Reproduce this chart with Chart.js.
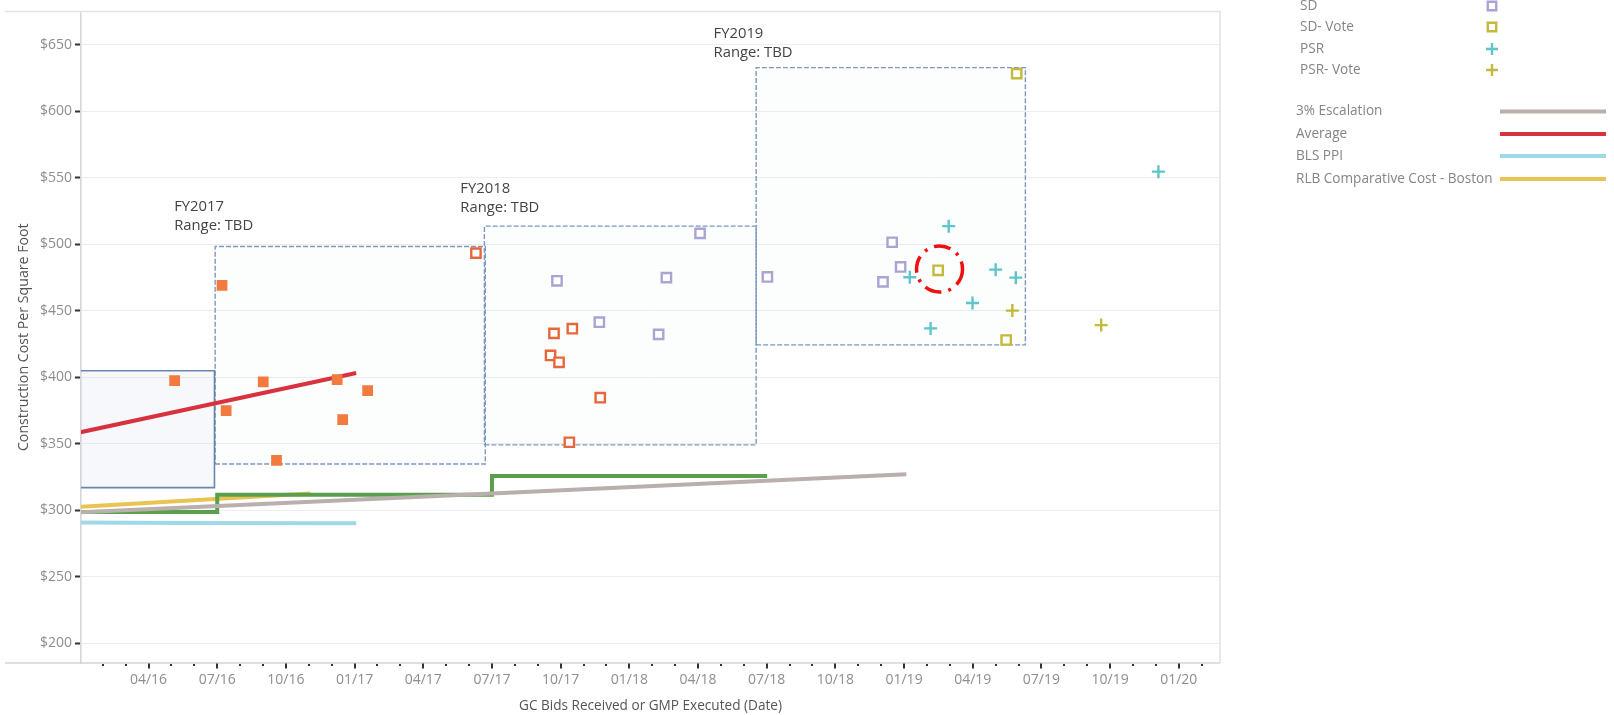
<!DOCTYPE html>
<html>
<head>
<meta charset="utf-8">
<title>Construction Cost Per Square Foot</title>
<script src="https://cdn.jsdelivr.net/npm/chart.js@4.4.1/dist/chart.umd.min.js"></script>
<style>
  html, body { margin: 0; padding: 0; background: #fff; }
  #wrap { position: relative; width: 1614px; height: 715px; }
</style>
</head>
<body>
<div id="wrap"><canvas id="costChart" width="1614" height="715"></canvas></div>
<script>
// x values are months counted from 01/2016 (04/16 = 3, 07/16 = 6, ... 01/20 = 48)

// ── Axis ticks ────────────────────────────────────────────
const yTickValues = [200, 250, 300, 350, 400, 450, 500, 550, 600, 650];
const xTickMonths = [3, 6, 9, 12, 15, 18, 21, 24, 27, 30, 33, 36, 39, 42, 45, 48];
const xTickLabels = ['04/16', '07/16', '10/16', '01/17', '04/17', '07/17', '10/17', '01/18',
                     '04/18', '07/18', '10/18', '01/19', '04/19', '07/19', '10/19', '01/20'];
const xMinorMonths = [1, 2, 4, 5, 7, 8, 10, 11, 13, 14, 16, 17, 19, 20, 22, 23, 25, 26, 28, 29,
                      31, 32, 34, 35, 37, 38, 40, 41, 43, 44, 46, 47, 49];

// ── Bid markers ───────────────────────────────────────────
const fy17BidX = [4.14, 6.21, 6.39, 8.01, 8.59, 11.24, 11.48, 12.57];
const fy17BidY = [397.4, 468.9, 374.8, 396.4, 337.3, 398.1, 368.1, 389.9];

const fy18BidX = [17.30, 20.71, 21.51, 20.56, 20.93, 22.73, 21.38];
const fy18BidY = [493.2, 432.9, 436.4, 416.3, 411.1, 384.5, 351.0];

const sdX = [20.84, 22.69, 25.62, 25.28, 27.09, 30.03, 35.48, 35.85, 35.08];
const sdY = [472.4, 441.3, 474.8, 432.1, 508.1, 475.3, 501.4, 482.8, 471.6];

const sdVoteX = [40.92, 37.49, 40.46];
const sdVoteY = [628.2, 480.3, 427.9];

const psrX = [37.95, 36.25, 40.00, 40.88, 38.99, 37.16, 47.11];
const psrY = [513.5, 475.1, 480.8, 474.8, 455.7, 436.6, 554.5];

const psrVoteX = [40.73, 44.61];
const psrVoteY = [450.0, 439.1];

// ── Reference lines ───────────────────────────────────────
const escalationX = [0, 18, 36.1];
const escalationY = [298.3, 312.5, 326.9];

const averageX = [0, 12.07];
const averageY = [358.4, 403.1];

const blsPpiX = [0, 4.5, 12.07];
const blsPpiY = [290.7, 290.3, 290.0];

const rlbX = [0, 10.06];
const rlbY = [302.5, 312.5];

const stepX = [0, 6, 18, 30.02];
const stepY = [298.6, 311.5, 325.6, 325.6];

// ── Fiscal-year range boxes ───────────────────────────────
const boxNames  = ['FY2016', 'FY2017', 'FY2018', 'FY2019'];
const boxStartX = [-1, 5.91, 17.67, 29.54];
const boxEndX   = [5.88, 17.71, 29.54, 41.30];
const boxLowY   = [316.9, 334.6, 349.0, 424.2];
const boxHighY  = [404.8, 498.2, 513.5, 632.7];

const fyLabelText = ['FY2017', 'FY2018', 'FY2019'];
const fyLabelX    = [4.12, 16.62, 27.68];
const fyLabelY    = [528.0, 541.4, 658.0];

// highlighted vote marker
const highlightX = 37.55;
const highlightY = 481.3;

// ── Legend ────────────────────────────────────────────────
const markerLegendLabels = ['SD', 'SD- Vote', 'PSR', 'PSR- Vote'];
const lineLegendLabels = ['3% Escalation', 'Average', 'BLS PPI', 'RLB Comparative Cost - Boston'];

const COLORS = {
    orange: '#f27a3f',
    orangeLine: '#e8673a',
    sd: '#a9a4d3',
    vote: '#c3b93b',
    psr: '#5fc5c9',
    escalation: '#b9afac',
    average: '#d8323f',
    bls: '#9fd8e7',
    rlb: '#e9c452',
    step: '#5a9f4b',
    box: '#7c98bb',
    boxSolid: '#6787ad'
};

const FONT = '"Open Sans", "DejaVu Sans", sans-serif';

function zipPoints(xs, ys) {
    return xs.map((x, i) => ({ x, y: ys[i] }));
}

function boxPath(i) {
    return [
        { x: boxStartX[i], y: boxLowY[i] },
        { x: boxEndX[i],   y: boxLowY[i] },
        { x: boxEndX[i],   y: boxHighY[i] },
        { x: boxStartX[i], y: boxHighY[i] },
        { x: boxStartX[i], y: boxLowY[i] }
    ];
}

const boxDatasets = boxNames.map((name, i) => ({
    label: name,
    data: boxPath(i),
    showLine: true,
    pointRadius: 0,
    borderColor: i === 0 ? COLORS.boxSolid : COLORS.box,
    borderWidth: i === 0 ? 1.6 : 1.4,
    borderDash: i === 0 ? [] : [5, 2],
    backgroundColor: i === 0 ? 'rgba(160, 180, 210, 0.09)' : 'rgba(170, 185, 210, 0.035)',
    fill: 'shape',
    order: 20
}));

function lineSet(label, xs, ys, color, extra) {
    return Object.assign({
        label,
        data: zipPoints(xs, ys),
        showLine: true,
        pointRadius: 0,
        borderColor: color,
        borderWidth: 4,
        fill: false,
        order: 10
    }, extra || {});
}

function markerSet(label, xs, ys, style, color, filled) {
    const isRect = style === 'rect';
    return {
        label,
        data: zipPoints(xs, ys),
        pointStyle: style,
        pointRadius: isRect ? (filled ? 7.6 : 6.6) : 6.5,
        pointBorderWidth: isRect ? (filled ? 0 : 2.4) : 2.4,
        pointBorderColor: color,
        pointBackgroundColor: filled ? color : '#ffffff',
        borderColor: color,
        backgroundColor: filled ? color : '#ffffff',
        order: 1
    };
}

// ── Custom drawing: frame, x ticks, labels, highlight, legend ──
const decorPlugin = {
    id: 'decor',
    beforeDatasetsDraw(chart) {
        const { ctx, chartArea: a } = chart;
        ctx.save();
        ctx.strokeStyle = '#e2e2e2';
        ctx.lineWidth = 1.5;
        ctx.beginPath();
        ctx.moveTo(5, a.top);
        ctx.lineTo(a.right, a.top);
        ctx.lineTo(a.right, a.bottom);
        ctx.stroke();
        ctx.restore();
    },
    afterDatasetsDraw(chart) {
        const { ctx, chartArea: a, scales: { x, y } } = chart;
        ctx.save();

        // bottom axis line, reaching past the y axis
        ctx.strokeStyle = '#d4d4d4';
        ctx.lineWidth = 1.6;
        ctx.beginPath();
        ctx.moveTo(5, a.bottom);
        ctx.lineTo(a.right, a.bottom);
        ctx.stroke();

        // quarterly ticks and monthly dots
        ctx.fillStyle = '#333';
        xTickMonths.forEach(m => {
            const px = Math.round(x.getPixelForValue(m));
            ctx.fillRect(px - 1, a.bottom + 0.5, 2, 5);
        });
        xMinorMonths.forEach(m => {
            const px = Math.round(x.getPixelForValue(m));
            if (px < a.right) ctx.fillRect(px - 1, a.bottom + 1, 2, 2);
        });

        // fiscal-year captions
        ctx.fillStyle = '#444';
        ctx.font = '14.8px ' + FONT;
        ctx.textAlign = 'left';
        ctx.textBaseline = 'middle';
        fyLabelText.forEach((t, i) => {
            const px = x.getPixelForValue(fyLabelX[i]);
            const py = y.getPixelForValue(fyLabelY[i]);
            ctx.fillText(t, px, py);
            ctx.fillText('Range: TBD', px, py + 19);
        });

        // red dash-dot ring round the highlighted vote
        ctx.strokeStyle = '#ee1111';
        ctx.lineWidth = 3.5;
        ctx.setLineDash([17, 7, 3, 7]);
        ctx.beginPath();
        ctx.arc(x.getPixelForValue(highlightX), y.getPixelForValue(highlightY), 23, 0, Math.PI * 2);
        ctx.stroke();
        ctx.setLineDash([]);

        ctx.restore();
    },
    afterDraw(chart) {
        const { ctx } = chart;
        const markerStyles = [
            { style: 'rect', color: COLORS.sd },
            { style: 'rect', color: COLORS.vote },
            { style: 'cross', color: COLORS.psr },
            { style: 'cross', color: COLORS.vote }
        ];
        const lineColors = [COLORS.escalation, COLORS.average, COLORS.bls, COLORS.rlb];
        const markerRowY = [6, 27, 49, 70];
        const lineRowY = [111.5, 134, 156, 179];

        ctx.save();
        ctx.font = '13.6px ' + FONT;
        ctx.textAlign = 'left';
        ctx.textBaseline = 'middle';

        markerLegendLabels.forEach((label, i) => {
            ctx.fillStyle = '#858585';
            ctx.fillText(label, 1300, markerRowY[i]);
            const m = markerStyles[i];
            ctx.strokeStyle = m.color;
            ctx.fillStyle = '#ffffff';
            ctx.lineWidth = 2.4;
            Chart.helpers.drawPoint(ctx, {
                pointStyle: m.style,
                radius: 6,
                borderWidth: 2.4,
                rotation: 0
            }, 1492, markerRowY[i]);
        });

        lineLegendLabels.forEach((label, i) => {
            ctx.fillStyle = '#858585';
            ctx.fillText(label, 1296, lineRowY[i]);
            ctx.strokeStyle = lineColors[i];
            ctx.lineWidth = 4;
            ctx.beginPath();
            ctx.moveTo(1500, lineRowY[i]);
            ctx.lineTo(1606, lineRowY[i]);
            ctx.stroke();
        });
        ctx.restore();
    }
};

const ctx = document.getElementById('costChart').getContext('2d');

new Chart(ctx, {
    type: 'scatter',
    data: {
        datasets: [
            ...boxDatasets,
            lineSet('3% Escalation', escalationX, escalationY, COLORS.escalation),
            lineSet('Step', stepX, stepY, COLORS.step, { stepped: 'before' }),
            lineSet('RLB Comparative Cost - Boston', rlbX, rlbY, COLORS.rlb),
            lineSet('BLS PPI', blsPpiX, blsPpiY, COLORS.bls),
            lineSet('Average', averageX, averageY, COLORS.average),
            markerSet('FY2017 Bids', fy17BidX, fy17BidY, 'rect', COLORS.orange, true),
            markerSet('FY2018 Bids', fy18BidX, fy18BidY, 'rect', COLORS.orangeLine, false),
            markerSet('SD', sdX, sdY, 'rect', COLORS.sd, false),
            markerSet('SD- Vote', sdVoteX, sdVoteY, 'rect', COLORS.vote, false),
            markerSet('PSR', psrX, psrY, 'cross', COLORS.psr, false),
            markerSet('PSR- Vote', psrVoteX, psrVoteY, 'cross', COLORS.vote, false)
        ]
    },
    options: {
        responsive: false,
        animation: false,
        layout: { padding: { left: 0, top: 5, right: 394, bottom: 0 } },
        plugins: {
            legend: { display: false },
            tooltip: { enabled: false }
        },
        scales: {
            x: {
                type: 'linear',
                min: 0.05,
                max: 49.8,
                afterFit: s => { s.height = 52; },
                afterBuildTicks: s => { s.ticks = xTickMonths.map(v => ({ value: v })); },
                ticks: {
                    autoSkip: false,
                    maxRotation: 0,
                    padding: 9,
                    color: '#8e8e8e',
                    font: { family: FONT, size: 14 },
                    callback: v => xTickLabels[xTickMonths.indexOf(v)] || ''
                },
                grid: { display: false, drawTicks: false },
                border: { display: false },
                title: {
                    display: true,
                    text: 'GC Bids Received or GMP Executed (Date)',
                    color: '#555',
                    font: { family: FONT, size: 13.6 },
                    padding: { top: 0, bottom: 1 }
                }
            },
            y: {
                min: 185,
                max: 675,
                afterFit: s => { s.width = 81; },
                afterBuildTicks: s => { s.ticks = yTickValues.map(v => ({ value: v })); },
                ticks: {
                    padding: 3,
                    color: '#8e8e8e',
                    font: { family: FONT, size: 14 },
                    callback: v => '$' + v
                },
                grid: { color: '#ededed', lineWidth: 1, tickColor: '#333', tickLength: 6, tickWidth: 2 },
                border: { color: '#d6d6d6', width: 1.6 },
                title: {
                    display: true,
                    text: 'Construction Cost Per Square Foot',
                    color: '#555',
                    font: { family: FONT, size: 14.2 },
                    padding: { top: 15, bottom: 0 }
                }
            }
        }
    },
    plugins: [decorPlugin]
});
</script>
</body>
</html>
